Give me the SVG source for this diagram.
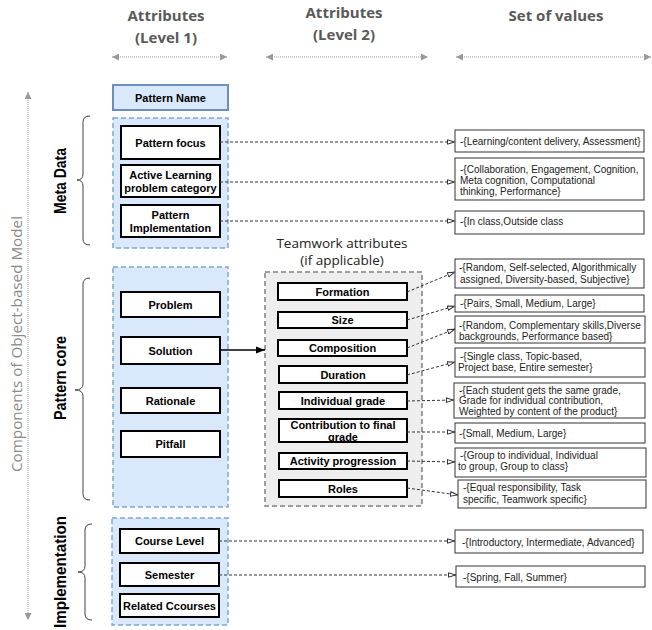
<svg xmlns="http://www.w3.org/2000/svg" width="652" height="630" viewBox="0 0 652 630">
<style>
.hdr{font-family:"Open Sans","Liberation Sans",sans-serif;font-weight:bold;font-size:15px;fill:#595959;text-anchor:middle}
.axis{font-family:"Open Sans","Liberation Sans",sans-serif;font-size:15px;fill:#8a8a8a;text-anchor:middle}
.sec{font-family:"Liberation Sans",Arial,sans-serif;font-weight:bold;font-size:16px;fill:#000;text-anchor:middle}
.tw{font-family:"Open Sans","Liberation Sans",sans-serif;font-size:13.5px;fill:#222;text-anchor:middle}
.cont{fill:#dae8fc;stroke:#7ea6d8;stroke-width:1.5;stroke-dasharray:5 3}
.twc{fill:#eeeeee;stroke:#808080;stroke-width:1.5;stroke-dasharray:5 3}
.node{fill:#fff;stroke:#000;stroke-width:2}
.lbl{font-family:"Liberation Sans",Arial,sans-serif;font-weight:bold;font-size:11px;fill:#000;text-anchor:middle}
.val{fill:#fff;stroke:#333;stroke-width:1}
.vt{font-family:"Liberation Sans",Arial,sans-serif;font-size:10px;fill:#222}
.con{fill:none;stroke:#333;stroke-width:1;stroke-dasharray:3 2;marker-end:url(#open)}
.brace{fill:none;stroke:#444;stroke-width:1}
.garrow{stroke:#999;stroke-width:1;stroke-dasharray:1 1;marker-start:url(#gtri-s);marker-end:url(#gtri)}
</style>
<defs>
<marker id="open" viewBox="0 0 8 6" refX="8" refY="3" markerWidth="8" markerHeight="6" markerUnits="userSpaceOnUse" orient="auto">
<path d="M0.5,0.8 L7.5,3 L0.5,5.2 Z" fill="#fff" stroke="#333" stroke-width="1"/>
</marker>
<marker id="gtri" viewBox="0 0 8 8" refX="8" refY="4" markerWidth="7" markerHeight="7" markerUnits="userSpaceOnUse" orient="auto">
<path d="M0,0 L8,4 L0,8 Z" fill="#999"/>
</marker>
<marker id="gtri-s" viewBox="0 0 8 8" refX="0" refY="4" markerWidth="7" markerHeight="7" markerUnits="userSpaceOnUse" orient="auto">
<path d="M8,0 L0,4 L8,8 Z" fill="#999"/>
</marker>
<marker id="blk" viewBox="0 0 10 8" refX="10" refY="4" markerWidth="9" markerHeight="8" markerUnits="userSpaceOnUse" orient="auto">
<path d="M0,0 L10,4 L0,8 Z" fill="#000"/>
</marker>
</defs>

<g id="headers">
<text class="hdr" x="166" y="21">Attributes</text>
<text class="hdr" x="166" y="43">(Level 1)</text>
<text class="hdr" x="344" y="18">Attributes</text>
<text class="hdr" x="344" y="40">(Level 2)</text>
<text class="hdr" x="556" y="21">Set of values</text>
<line class="garrow" x1="112" y1="57" x2="227" y2="57"/>
<line class="garrow" x1="266" y1="57" x2="428" y2="57"/>
<line class="garrow" x1="456" y1="57" x2="651" y2="57"/>
</g>

<g id="axis">
<line class="garrow" x1="28" y1="92" x2="28" y2="620"/>
<text class="axis" transform="translate(22,344) rotate(-90)" textLength="256" lengthAdjust="spacingAndGlyphs">Components of Object-based Model</text>
</g>

<g id="section-labels">
<text class="sec" transform="translate(66,181) rotate(-90)" textLength="66" lengthAdjust="spacingAndGlyphs">Meta Data</text>
<path class="brace" d="M90,116 Q83,116 83,122 L83,174 Q83,180 77,180 Q83,180 83,186 L83,239 Q83,245 90,245"/>
<text class="sec" transform="translate(66,378) rotate(-90)" textLength="84" lengthAdjust="spacingAndGlyphs">Pattern core</text>
<path class="brace" d="M90,278 Q83,278 83,284 L83,384 Q83,390 75,390 Q83,390 83,396 L83,494 Q83,500 90,500"/>
<text class="sec" transform="translate(66,572) rotate(-90)" textLength="112" lengthAdjust="spacingAndGlyphs">Implementation</text>
<path class="brace" d="M92,524 Q85,524 85,530 L85,566 Q85,572 78,572 Q85,572 85,578 L85,614 Q85,620 92,620"/>
</g>

<g id="pattern-name">
<rect x="113" y="85" width="115" height="25" fill="#dae8fc" stroke="#6c8ebf" stroke-width="2"/>
<text class="lbl" x="170.5" y="101.5">Pattern Name</text>
</g>

<g id="meta-data">
<rect class="cont" x="113" y="118" width="115" height="130"/>
</g>
<g id="pattern-focus">
<rect class="node" x="121" y="126" width="99" height="33"/>
<text class="lbl" x="170.5" y="146.5">Pattern focus</text>
</g>
<g id="active-learning">
<rect class="node" x="121" y="165" width="99" height="32"/>
<text class="lbl" x="170.5" y="179">Active Learning</text>
<text class="lbl" x="170.5" y="192">problem category</text>
</g>
<g id="pattern-implementation">
<rect class="node" x="121" y="205" width="99" height="32"/>
<text class="lbl" x="170.5" y="219">Pattern</text>
<text class="lbl" x="170.5" y="232">Implementation</text>
</g>

<g id="pattern-core">
<rect class="cont" x="113" y="267" width="115" height="240"/>
</g>
<g id="problem">
<rect class="node" x="121" y="292" width="99" height="25"/>
<text class="lbl" x="170.5" y="308.5">Problem</text>
</g>
<g id="solution">
<rect class="node" x="121" y="337" width="99" height="27"/>
<text class="lbl" x="170.5" y="354.5">Solution</text>
</g>
<g id="rationale">
<rect class="node" x="121" y="388" width="99" height="25"/>
<text class="lbl" x="170.5" y="404.5">Rationale</text>
</g>
<g id="pitfall">
<rect class="node" x="121" y="431" width="99" height="26"/>
<text class="lbl" x="170.5" y="448">Pitfall</text>
</g>

<g id="implementation">
<rect class="cont" x="112" y="518" width="116" height="107"/>
</g>
<g id="course-level">
<rect class="node" x="120" y="529" width="99" height="24"/>
<text class="lbl" x="169.5" y="545">Course Level</text>
</g>
<g id="semester">
<rect class="node" x="120" y="563" width="99" height="23"/>
<text class="lbl" x="169.5" y="578.5">Semester</text>
</g>
<g id="related-courses">
<rect class="node" x="120" y="594" width="99" height="23"/>
<text class="lbl" x="169.5" y="609.5">Related Ccourses</text>
</g>

<g id="teamwork">
<text class="tw" x="342" y="248">Teamwork attributes</text>
<text class="tw" x="342" y="265">(if applicable)</text>
<rect class="twc" x="265" y="272" width="157" height="234"/>
</g>
<g id="formation">
<rect class="node" x="278" y="283" width="129" height="17"/>
<text class="lbl" x="342.5" y="295.5">Formation</text>
</g>
<g id="size">
<rect class="node" x="278" y="312" width="129" height="16"/>
<text class="lbl" x="342.5" y="324">Size</text>
</g>
<g id="composition">
<rect class="node" x="278" y="340" width="129" height="16"/>
<text class="lbl" x="342.5" y="352">Composition</text>
</g>
<g id="duration">
<rect class="node" x="279" y="366" width="128" height="17"/>
<text class="lbl" x="343" y="378.5">Duration</text>
</g>
<g id="individual-grade">
<rect class="node" x="279" y="392" width="128" height="17"/>
<text class="lbl" x="343" y="404.5">Individual grade</text>
</g>
<g id="contribution">
<rect class="node" x="279" y="419" width="128" height="23"/>
<text class="lbl" x="343" y="429">Contribution to final</text>
<text class="lbl" x="343" y="441">grade</text>
</g>
<g id="activity-progression">
<rect class="node" x="279" y="453" width="128" height="16"/>
<text class="lbl" x="343" y="465">Activity progression</text>
</g>
<g id="roles">
<rect class="node" x="279" y="480" width="128" height="17"/>
<text class="lbl" x="343" y="492.5">Roles</text>
</g>

<g id="values">
<g id="v-focus"><rect class="val" x="455" y="130" width="189" height="22"/>
<text class="vt" x="460" y="145">-{Learning/content delivery, Assessment}</text></g>
<g id="v-al"><rect class="val" x="455" y="158" width="189" height="42"/>
<text class="vt" x="460" y="172.5">-{Collaboration, Engagement, Cognition,</text>
<text class="vt" x="460" y="183.5">Meta cognition, Computational</text>
<text class="vt" x="460" y="194.5">thinking, Performance}</text></g>
<g id="v-impl"><rect class="val" x="455" y="211" width="189" height="23"/>
<text class="vt" x="460" y="225">-{In class,Outside class</text></g>
<g id="v-form"><rect class="val" x="455" y="259" width="189" height="29"/>
<text class="vt" x="459" y="270.5">-{Random, Self-selected, Algorithmically</text>
<text class="vt" x="460" y="282.5">assigned, Diversity-based, Subjective}</text></g>
<g id="v-size"><rect class="val" x="455" y="295" width="189" height="17"/>
<text class="vt" x="460" y="306.5">-{Pairs, Small, Medium, Large}</text></g>
<g id="v-comp"><rect class="val" x="455" y="316" width="190" height="27"/>
<text class="vt" x="459" y="328.5">-{Random, Complementary skills,Diverse</text>
<text class="vt" x="459" y="339.5"> backgrounds, Performance based}</text></g>
<g id="v-dur"><rect class="val" x="455" y="348" width="190" height="29"/>
<text class="vt" x="460" y="359.5">-{Single class, Topic-based,</text>
<text class="vt" x="458" y="370.5">Project base, Entire semester}</text></g>
<g id="v-ind"><rect class="val" x="454" y="383" width="191" height="35"/>
<text class="vt" x="459" y="393.5">-{Each student gets the same grade,</text>
<text class="vt" x="459" y="404">Grade for individual contribution,</text>
<text class="vt" x="459" y="414.5">Weighted by content of the product}</text></g>
<g id="v-contr"><rect class="val" x="455" y="423" width="190" height="20"/>
<text class="vt" x="459" y="436.5">-{Small, Medium, Large}</text></g>
<g id="v-act"><rect class="val" x="455" y="448" width="191" height="29"/>
<text class="vt" x="460" y="458.5">-{Group to individual, Individual</text>
<text class="vt" x="458" y="469.5">to group, Group  to class}</text></g>
<g id="v-roles"><rect class="val" x="458" y="480" width="188" height="28"/>
<text class="vt" x="463" y="491">-{Equal responsibility, Task</text>
<text class="vt" x="463" y="502.5">specific, Teamwork specific}</text></g>
<g id="v-course"><rect class="val" x="455" y="530" width="188" height="23"/>
<text class="vt" x="462" y="546">-{Introductory, Intermediate, Advanced}</text></g>
<g id="v-sem"><rect class="val" x="456" y="566" width="189" height="21"/>
<text class="vt" x="463" y="580.5">-{Spring, Fall, Summer}</text></g>
</g>

<g id="connectors">
<line x1="220" y1="350" x2="265" y2="350" stroke="#000" stroke-width="1.5" marker-end="url(#blk)"/>
<path class="con" d="M220,142 L455,142"/>
<path class="con" d="M220,182 L455,182"/>
<path class="con" d="M220,221 L455,221"/>
<path class="con" d="M407,292 L455,272"/>
<path class="con" d="M407,320 L455,306"/>
<path class="con" d="M407,348 L455,329"/>
<path class="con" d="M407,375 L455,362"/>
<path class="con" d="M407,401 L454,400"/>
<path class="con" d="M407,432 L455,432"/>
<path class="con" d="M407,461 L455,462"/>
<path class="con" d="M407,488 L458,495"/>
<path class="con" d="M219,541 L455,541"/>
<path class="con" d="M219,575 L456,575"/>
</g>
</svg>
